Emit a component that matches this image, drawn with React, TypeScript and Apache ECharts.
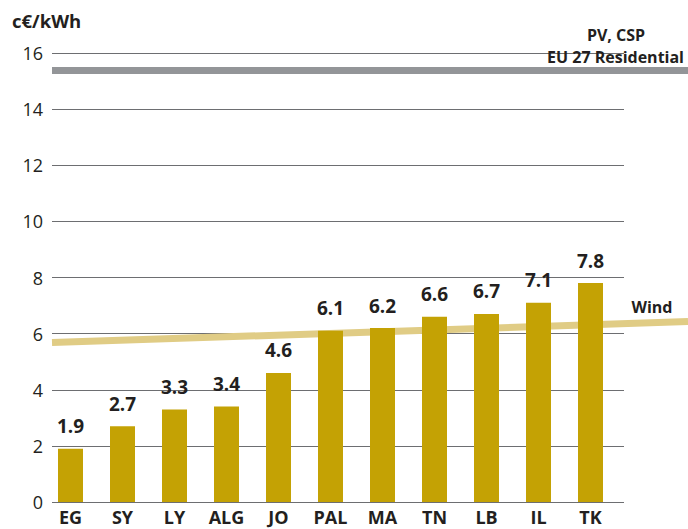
import React, { useEffect, useRef } from "react";
import * as echarts from "echarts";

const categories = ["EG", "SY", "LY", "ALG", "JO", "PAL", "MA", "TN", "LB", "IL", "TK"];
const costValues = [1.9, 2.7, 3.3, 3.4, 4.6, 6.1, 6.2, 6.6, 6.7, 7.1, 7.8];
const yTicks = { min: 0, max: 16, interval: 2 };
const pvLevel = [15.38, 15.38];
const windLevel = [5.68, 6.43];
const unitLabel = "c€/kWh";
const pvLabel = ["PV, CSP", "EU 27 Residential"];
const windLabel = "Wind";

const FONT = "'Open Sans', 'Noto Sans', sans-serif";
const TEXT = "#231f20";

export default function App() {
  const ref = useRef<HTMLDivElement>(null);
  useEffect(() => {
    if (!ref.current) return;
    const chart = echarts.init(ref.current, null, { renderer: "svg" });
    const top = 53;
    const height = 449;
    chart.setOption({
      animation: false,
      textStyle: { fontFamily: FONT },
      grid: [
        { left: 52, top, width: 572, height },
        { left: 44.5, top, width: 572, height },
        { left: 52, top, right: 0, height },
      ],
      xAxis: [
        { gridIndex: 0, type: "value", min: 0, max: 1, show: false },
        {
          gridIndex: 1,
          type: "category",
          data: categories,
          axisLine: { show: false },
          axisTick: { show: false },
          axisLabel: {
            color: TEXT,
            fontFamily: FONT,
            fontSize: 18,
            fontWeight: "bold",
            margin: 5,
            lineHeight: 20,
          },
        },
        { gridIndex: 2, type: "value", min: 0, max: 1, show: false },
      ],
      yAxis: [
        {
          gridIndex: 0,
          type: "value",
          min: yTicks.min,
          max: yTicks.max,
          interval: yTicks.interval,
          axisLine: { show: false },
          axisTick: { show: false },
          axisLabel: { color: TEXT, fontFamily: FONT, fontSize: 18, margin: 9 },
          splitLine: { lineStyle: { color: "#6d6e71", width: 1 } },
        },
        { gridIndex: 1, type: "value", min: yTicks.min, max: yTicks.max, show: false },
        { gridIndex: 2, type: "value", min: yTicks.min, max: yTicks.max, show: false },
      ],
      series: [
        {
          type: "line",
          xAxisIndex: 2,
          yAxisIndex: 2,
          data: [
            [0, pvLevel[0]],
            [1, pvLevel[1]],
          ],
          symbol: "none",
          lineStyle: { color: "#939598", width: 7, cap: "butt" },
          z: 2,
        },
        {
          type: "line",
          xAxisIndex: 2,
          yAxisIndex: 2,
          data: [
            [0, windLevel[0]],
            [1, windLevel[1]],
          ],
          symbol: "none",
          lineStyle: { color: "#e0cc85", width: 7, cap: "butt" },
          z: 2,
        },
        {
          type: "bar",
          xAxisIndex: 1,
          yAxisIndex: 1,
          data: costValues,
          barWidth: 25,
          itemStyle: { color: "#c4a204" },
          z: 3,
          label: {
            show: true,
            position: "top",
            distance: 13,
            color: TEXT,
            fontFamily: FONT,
            fontSize: 19,
            fontWeight: "bold",
            formatter: (p: any) => p.value.toFixed(1),
          },
        },
      ],
      graphic: [
        {
          type: "text",
          left: 12,
          top: 11,
          style: { text: unitLabel, fill: TEXT, font: `bold 18.5px ${FONT}` },
        },
        {
          type: "text",
          x: 616,
          y: 35,
          style: {
            text: pvLabel[0],
            fill: TEXT,
            font: `bold 16px ${FONT}`,
            align: "center",
            verticalAlign: "middle",
          },
          z: 10,
        },
        {
          type: "text",
          x: 684,
          y: 57,
          style: {
            text: pvLabel[1],
            fill: TEXT,
            font: `bold 16px ${FONT}`,
            align: "right",
            verticalAlign: "middle",
          },
          z: 10,
        },
        {
          type: "text",
          x: 652,
          y: 307,
          style: {
            text: windLabel,
            fill: TEXT,
            font: `bold 16px ${FONT}`,
            align: "center",
            verticalAlign: "middle",
          },
          z: 10,
        },
      ],
    });
    return () => chart.dispose();
  }, []);
  return (
    <div
      ref={ref}
      style={{ position: "fixed", left: 0, top: 0, width: 688, height: 529, background: "#fff" }}
    />
  );
}
